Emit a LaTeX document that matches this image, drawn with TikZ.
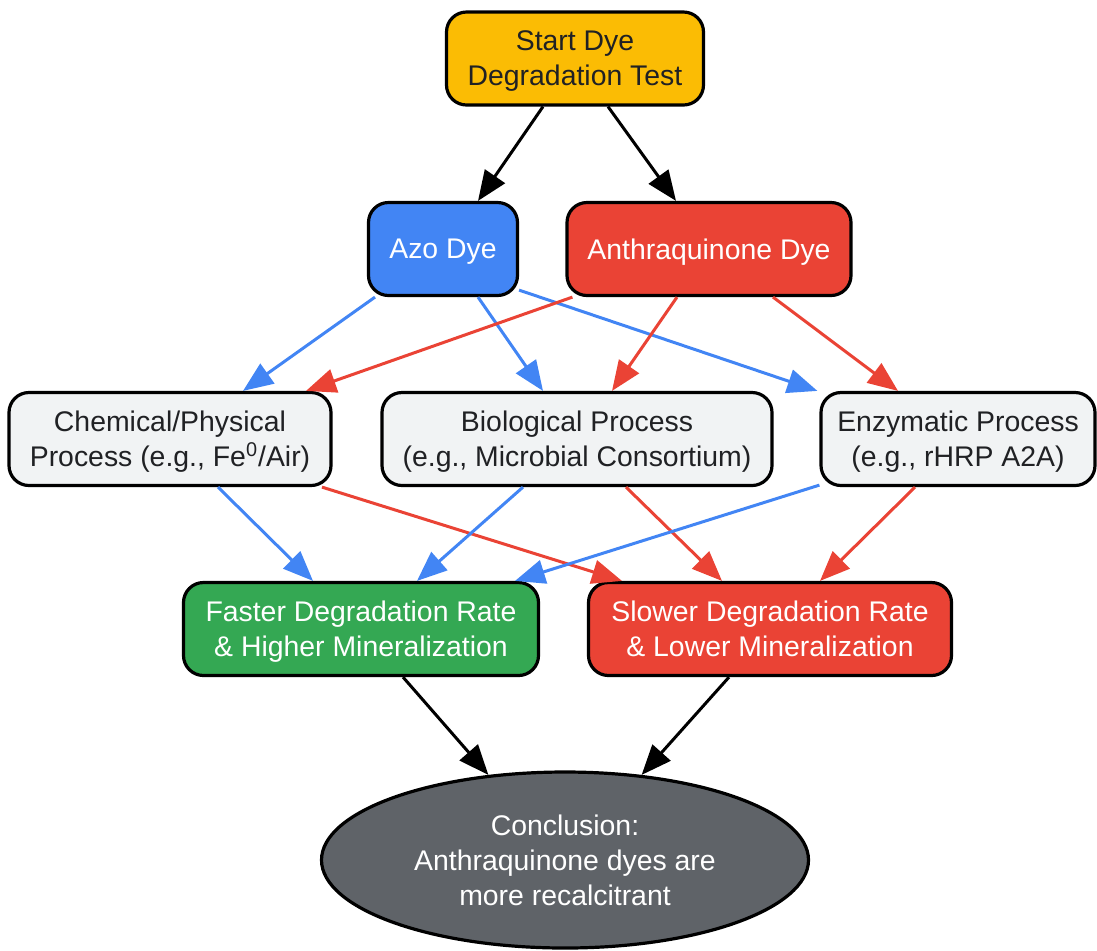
\documentclass[tikz,border=0pt]{standalone}
\usepackage{fontspec}
\setmainfont{Liberation Sans}
\usepackage{tikz}
\usetikzlibrary{arrows.meta}
\usetikzlibrary{shapes.geometric}

\definecolor{gyellow}{HTML}{FBBC04}
\definecolor{gblue}{HTML}{4285F4}
\definecolor{gred}{HTML}{EA4335}
\definecolor{ggreen}{HTML}{34A853}
\definecolor{glight}{HTML}{F1F3F4}
\definecolor{gdark}{HTML}{5F6368}
\definecolor{gtext}{HTML}{202124}

\tikzset{
  box/.style={draw=black, line width=1.6pt, rounded corners=10pt, align=center,
    inner sep=0pt, minimum height=46.5pt, text depth=0pt,
    font=\fontsize{14.2}{17.5}\selectfont},
  darktext/.style={text=gtext},
  lighttext/.style={text=white},
  flow/.style={line width=1.5pt, -{Triangle[length=15pt,width=12pt]}},
  blackflow/.style={flow, draw=black, fill=black},
  blueflow/.style={flow, draw=gblue, fill=gblue},
  redflow/.style={flow, draw=gred, fill=gred}
}

\begin{document}
\begin{tikzpicture}[x=0.5pt, y=-0.5pt]
\useasboundingbox (0,0) rectangle (1097,950);

% nodes
\node [box, darktext, fill=gyellow, minimum width=128.5pt] (start) at (575,58.5) {Start Dye\\Degradation Test};
\node [box, lighttext, fill=gblue, minimum width=74.5pt] (azo) at (443,249) {Azo Dye};
\node [box, lighttext, fill=gred, minimum width=142pt] (anthra) at (709,249) {Anthraquinone Dye};
\node [box, darktext, fill=glight, minimum width=161pt] (chem) at (170,439) {Chemical/Physical\\Process (e.g., Fe\textsuperscript{0}/Air)};
\node [box, darktext, fill=glight, minimum width=195pt] (bio) at (577,439) {Biological Process\\(e.g., Microbial Consortium)};
\node [box, darktext, fill=glight, minimum width=137pt] (enz) at (958,439) {Enzymatic Process\\(e.g., rHRP A2A)};
\node [box, lighttext, fill=ggreen, minimum width=177.5pt] (fast) at (361,629) {Faster Degradation Rate\\\& Higher Mineralization};
\node [box, lighttext, fill=gred, minimum width=181.5pt] (slow) at (770,629) {Slower Degradation Rate\\\& Lower Mineralization};
\node [draw=black, line width=1.6pt, ellipse, fill=gdark, lighttext, align=center, inner sep=0pt,
  minimum width=243.5pt, minimum height=88pt, font=\fontsize{14.2}{17.5}\selectfont] (concl) at (565,860)
  {Conclusion:\\Anthraquinone dyes are\\more recalcitrant};

% start to dyes
\draw [blackflow] ([xshift=-16pt]start.south) -- ([xshift=17.5pt]azo.north);
\draw [blackflow] ([xshift=16.5pt]start.south) -- ([xshift=-16.5pt]anthra.north);

% azo dye
\draw [blueflow] ([xshift=-34pt]azo.south) -- ([xshift=36.5pt]chem.north);
\draw [blueflow] ([xshift=17.5pt]azo.south) -- ([xshift=-17pt]bio.north);
\draw [blueflow] ([yshift=3.5pt]azo.south east) -- ([xshift=-1pt]enz.north west);

% anthraquinone dye
\draw [redflow] ([xshift=3.5pt]anthra.south west) -- ([xshift=68pt]chem.north);
\draw [redflow] ([xshift=-16pt]anthra.south) -- ([xshift=17.5pt]bio.north);
\draw [redflow] ([xshift=32pt]anthra.south) -- ([xshift=-30pt]enz.north);

% processes to results
\draw [blueflow] ([xshift=24pt]chem.south) -- ([xshift=-24pt]fast.north);
\draw [redflow] ([xshift=76pt]chem.south) -- ([xshift=-74pt]slow.north);
\draw [blueflow] ([xshift=-27pt]bio.south) -- ([xshift=28pt]fast.north);
\draw [redflow] ([xshift=24.5pt]bio.south) -- ([xshift=-24pt]slow.north);
\draw [blueflow] ([yshift=1pt]enz.south west) -- ([xshift=77pt]fast.north);
\draw [redflow] ([xshift=-21.5pt]enz.south) -- ([xshift=25pt]slow.north);

% results to conclusion
\draw [blackflow] ([xshift=21pt]fast.south) -- (concl.132);
\draw [blackflow] ([xshift=-20.5pt]slow.south) -- (concl.48);
\end{tikzpicture}
\end{document}
